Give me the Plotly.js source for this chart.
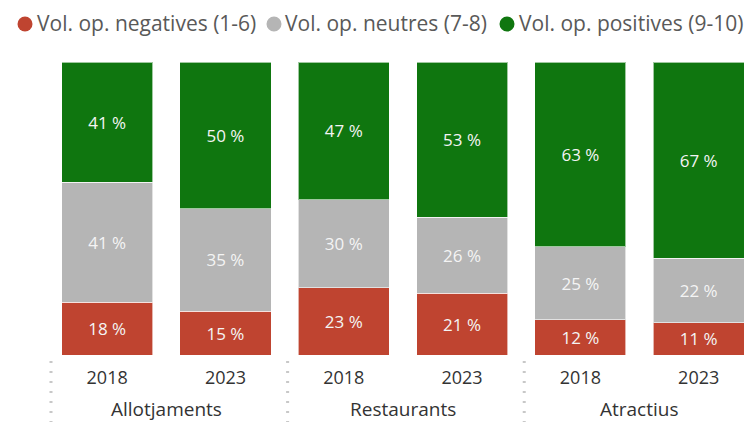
<!DOCTYPE html>
<html>
<head>
<meta charset="utf-8">
<script src="https://cdn.plot.ly/plotly-3.0.1.min.js"></script>
<style>
  html, body { margin: 0; padding: 0; background: #fff; }
  #chart { width: 753px; height: 422px; }
</style>
</head>
<body>
<div id="chart"></div>
<script>
// categories
const groups = ["Allotjaments", "Restaurants", "Atractius"];
const years = ["2018", "2023", "2018", "2023", "2018", "2023"];

// series values (%)
const negatives = [18, 15, 23, 21, 12, 11];
const neutres = [41, 35, 30, 26, 25, 22];
const positives = [41, 50, 47, 53, 63, 67];

const seriesNames = ["Vol. op. negatives (1-6)", "Vol. op. neutres (7-8)", "Vol. op. positives (9-10)"];
const seriesColors = ["#BF4430", "#B5B5B5", "#0F760F"];

// plot box in px (753x422 page)
const W = 753, H = 422;
const M = { l: 48, r: 7, t: 62, b: 67 };
const plotW = W - M.l - M.r, plotH = H - M.t - M.b;
const px2x = px => (px - M.l) / plotW;
const px2y = py => (H - M.b - py) / plotH;

const xRange = [-0.5, 5.4];
const idx = years.map((_, i) => i);
const perGroup = years.length / groups.length;

function barTrace(vals, i) {
    return {
        type: "bar",
        x: idx,
        y: vals,
        name: seriesNames[i],
        marker: { color: seriesColors[i], line: { color: "rgba(255,255,255,0.6)", width: 1 } },
        text: vals.map(v => v + " %"),
        textposition: "inside",
        insidetextanchor: "middle",
        textfont: { family: "Open Sans, sans-serif", size: 17, color: "#F4F4F4" },
        hoverinfo: "skip",
        showlegend: false
    };
}

const traces = [
    barTrace(negatives, 0),
    barTrace(neutres, 1),
    barTrace(positives, 2)
];

// dotted separators between the groups
const dataToPaper = v => (v - xRange[0]) / (xRange[1] - xRange[0]);
const shapes = groups.map((g, k) => {
    const xp = dataToPaper(k * perGroup - 0.5) + px2x(M.l + 3);
    return {
        type: "line",
        xref: "paper",
        yref: "paper",
        x0: xp, x1: xp,
        y0: px2y(361),
        y1: px2y(422),
        line: { color: "#C8C8C8", width: 3, dash: "2px,8px" }
    };
});

// group labels under the years
const annotations = groups.map((g, k) => ({
    xref: "x",
    yref: "paper",
    x: k * perGroup + (perGroup - 1) / 2,
    y: px2y(409),
    yanchor: "middle",
    xanchor: "center",
    showarrow: false,
    text: g,
    font: { family: "Open Sans, sans-serif", size: 19, color: "#333" }
}));

// legend drawn by hand: dot + label
const legendDots = [25, 274, 507];
const legendText = [35, 283, 517];
seriesNames.forEach((name, i) => {
    shapes.push({
        type: "circle",
        xref: "paper", yref: "paper",
        xsizemode: "pixel", ysizemode: "pixel",
        xanchor: px2x(legendDots[i]), yanchor: px2y(24),
        x0: -7.5, x1: 7.5, y0: -7.5, y1: 7.5,
        fillcolor: seriesColors[i],
        line: { width: 0 }
    });
    annotations.push({
        xref: "paper", yref: "paper",
        x: px2x(legendText[i]), y: px2y(23),
        xanchor: "left", yanchor: "middle",
        showarrow: false,
        text: name,
        font: { family: "Open Sans, sans-serif", size: 21, color: "#595959" }
    });
});

const layout = {
    width: W,
    height: H,
    margin: M,
    paper_bgcolor: "#fff",
    plot_bgcolor: "#fff",
    barmode: "stack",
    bargap: 0.23,
    font: { family: "Open Sans, sans-serif", color: "#333" },
    showlegend: false,
    xaxis: {
        range: xRange,
        tickmode: "array",
        tickvals: idx,
        ticktext: years,
        showgrid: false,
        zeroline: false,
        showline: false,
        ticks: "",
        ticklabelstandoff: 10,
        tickfont: { family: "Open Sans, sans-serif", size: 18, color: "#333" },
        fixedrange: true
    },
    yaxis: {
        range: [0, 100],
        visible: false,
        fixedrange: true
    },
    shapes: shapes,
    annotations: annotations
};

Plotly.newPlot("chart", traces, layout, { displayModeBar: false, staticPlot: true });
</script>
</body>
</html>
